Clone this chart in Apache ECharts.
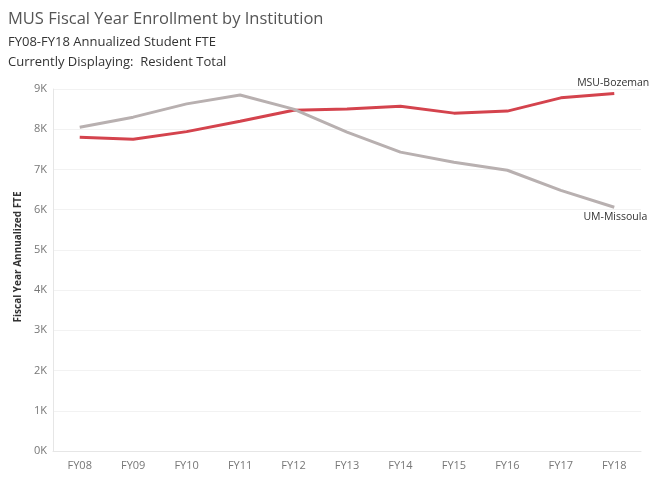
<!DOCTYPE html>
<html>
<head>
<meta charset="utf-8">
<script src="https://cdn.jsdelivr.net/npm/echarts@6/dist/echarts.min.js"></script>
<style>html,body{margin:0;padding:0;background:#fff;}#c{width:649px;height:480px;}</style>
</head>
<body>
<div id="c"></div>
<script>
var categories = ['FY08','FY09','FY10','FY11','FY12','FY13','FY14','FY15','FY16','FY17','FY18'];
var msuBozeman = [7800, 7750, 7940, 8200, 8470, 8500, 8570, 8400, 8450, 8780, 8890];
var umMissoula = [8050, 8300, 8630, 8850, 8500, 7930, 7430, 7180, 6980, 6480, 6060];
var seriesNames = ['MSU-Bozeman', 'UM-Missoula'];

var chart = echarts.init(document.getElementById('c'), null, {renderer: 'canvas'});
var font = 'Open Sans';
chart.setOption({
  animation: false,
  backgroundColor: '#fff',
  title: [
    {text: 'MUS Fiscal Year Enrollment by Institution', left: 3, top: 6,
     textStyle: {fontFamily: font, fontSize: 16.5, fontWeight: 'normal', color: '#555'}},
    {text: 'FY08-FY18 Annualized Student FTE', left: 3, top: 31,
     textStyle: {fontFamily: font, fontSize: 13, fontWeight: 'normal', color: '#333'}},
    {text: 'Currently Displaying:  Resident Total', left: 3, top: 51,
     textStyle: {fontFamily: font, fontSize: 13, fontWeight: 'normal', color: '#333'}}
  ],
  grid: {left: 53, right: 8, top: 89, bottom: 29},
  xAxis: {
    type: 'category', data: categories, boundaryGap: true,
    axisLine: {show: true, lineStyle: {color: '#e6e6e6'}},
    axisTick: {show: false},
    axisLabel: {color: '#777', fontFamily: font, fontSize: 11, margin: 9}
  },
  yAxis: {
    type: 'value', min: 0, max: 9000, interval: 1000,
    name: 'Fiscal Year Annualized FTE', nameLocation: 'middle', nameGap: 25,
    nameTextStyle: {fontFamily: font, fontSize: 10, fontWeight: 'bold', color: '#333', padding: [0, 0, 0, 26]},
    axisLine: {show: true, lineStyle: {color: '#e6e6e6'}},
    axisTick: {show: false},
    splitLine: {lineStyle: {color: '#f2f2f2'}},
    axisLabel: {color: '#777', fontFamily: font, fontSize: 11, margin: 6,
      formatter: function (v) { return (v / 1000) + 'K'; }}
  },
  series: [
    {name: seriesNames[0], type: 'line', data: msuBozeman, symbol: 'none',
     lineStyle: {color: '#d4434d', width: 3}, itemStyle: {color: '#d4434d'},
     endLabel: {show: true, formatter: '{a}', fontFamily: font, fontSize: 10.5, color: '#333',
       align: 'right', verticalAlign: 'bottom', offset: [27, -5]}},
    {name: seriesNames[1], type: 'line', data: umMissoula, symbol: 'none',
     lineStyle: {color: '#b8b0b0', width: 3}, itemStyle: {color: '#b8b0b0'},
     endLabel: {show: true, formatter: '{a}', fontFamily: font, fontSize: 10.5, color: '#333',
       align: 'right', verticalAlign: 'top', offset: [25, 4]}}
  ]
});
</script>
</body>
</html>
